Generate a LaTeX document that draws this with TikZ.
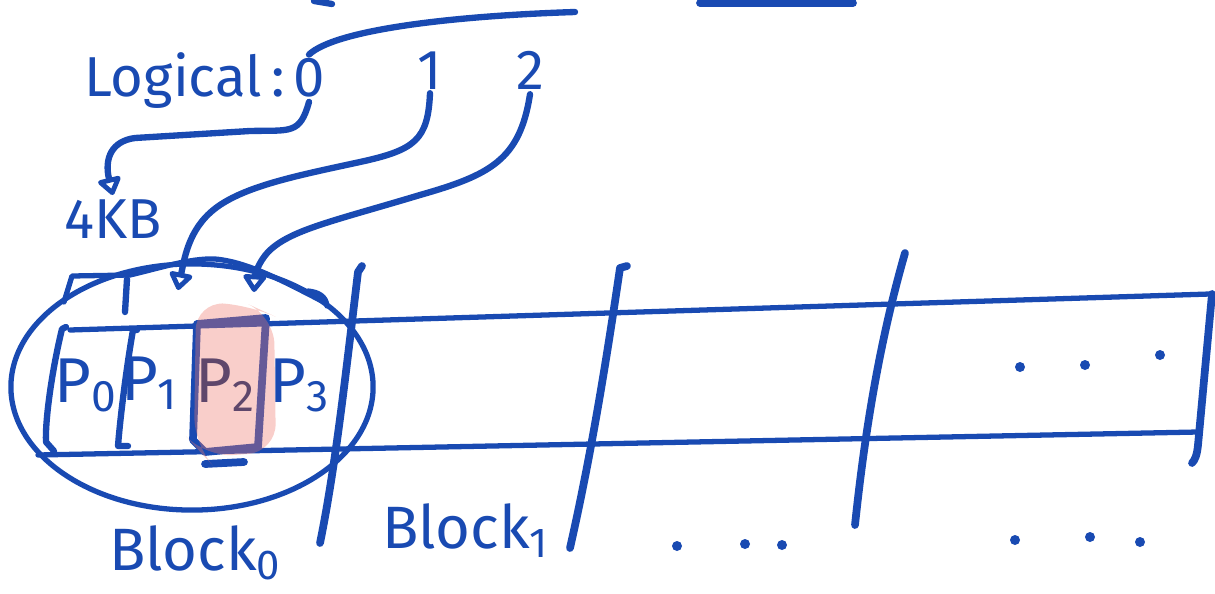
\documentclass[tikz,border=0pt]{standalone}
\usepackage{fontspec}
\setmainfont{Fira Sans}
\usepackage{tikz}
\usetikzlibrary{arrows.meta}
\definecolor{figink}{RGB}{25,74,178}
\definecolor{figpink}{RGB}{238,120,108}
\tikzset{
  ink/.style  ={draw=figink, line width=1.8pt, line cap=round, line join=round},
  inkt/.style ={draw=figink, line width=1.5pt, line cap=round, line join=round},
  inkb/.style ={draw=figink, line width=2.2pt, line cap=round, line join=round},
  ptr/.style  ={ink, -{Triangle[open,round,length=5.5pt,width=7.5pt]}},
  lab/.style  ={text=figink, font=\fontsize{16}{19}\selectfont, inner sep=1pt},
  labp/.style ={text=figink, font=\fontsize{18}{21}\selectfont, inner sep=1pt},
  labb/.style ={text=figink, font=\fontsize{17}{20}\selectfont, inner sep=1pt},
  blob/.style ={fill=figink},
}

\begin{document}
\begin{tikzpicture}[x=0.01cm,y=-0.01cm]
  \useasboundingbox (0,0) rectangle (1215,594);
  \node[lab,anchor=base west] (logic) at (80,97) {Logical\,:};
  \node[lab,anchor=base] (l0) at (309,97) {0};
  \node[lab,anchor=base] (l1) at (430,89) {1};
  \node[lab,anchor=base] (l2) at (530,90) {2};
  \node[lab,anchor=base west] (kb) at (60,238) {4KB};
  \coordinate (topend) at (575,12);
  \coordinate (t1) at (178,290);
  \coordinate (t2) at (254,292);
  \draw[ink] (314,1) -- (332,4);
  \draw[inkb] (700,3) -- (853,3);
  \draw[ink] (l0.north) .. controls (335,30) and (450,16) .. (topend);
  \draw[ptr] (l0.south) .. controls (300,135) and (290,130) .. (250,131) -- (135,138) .. controls (112,141) and (104,158) .. (kb.north);
  \draw[ptr] (l1.south) .. controls (428,140) and (415,150) .. (360,162) .. controls (300,175) and (250,185) .. (220,205) .. controls (190,225) and (185,255) .. (t1);
  \draw[ptr] (l2.south) .. controls (520,160) and (490,175) .. (420,195) .. controls (330,222) and (290,230) .. (268,252) .. controls (258,263) and (255,275) .. (t2);
  \draw[inkt] (192,387) ellipse [x radius=1.81cm, y radius=1.23cm];
  \draw[inkt] (64,302) -- (72,276) -- (130,275) .. controls (160,268) and (190,258) .. (215,259) .. controls (250,262) and (290,285) .. (324,302);
  \draw[inkt] (308,291) .. controls (318,292) and (326,296) .. (327,306);
  \draw[ink] (127,279) -- (125,312);
  \draw[inkt] (70,330) -- (1210,294);
  \draw[inkt] (38,455) -- (1198,432);
  \draw[ink] (66,327) -- (62,329) .. controls (52,370) and (45,420) .. (46,442) -- (54,451);
  \draw[ink] (137,330) -- (133,330) .. controls (126,370) and (120,420) .. (118,446) -- (128,446);
  \draw[inkb] (197,324) -- (266,318) -- (258,447) -- (205,452) -- (193,440) -- cycle;
  \draw[inkb] (205,464) -- (244,462);
  \draw[inkb] (362,266) -- (358,272) .. controls (345,380) and (335,470) .. (320,543);
  \draw[inkb] (627,266) -- (620,268) .. controls (605,370) and (590,460) .. (570,548);
  \draw[inkb] (905,253) .. controls (880,340) and (865,430) .. (855,525);
  \draw[inkb] (1212,294) -- (1198,445) .. controls (1197,455) and (1195,460) .. (1192,463);
  \node[labp,anchor=base] (p0) at (86,402) {P\textsubscript{0}};
  \node[labp,anchor=base] (p1) at (150,400) {P\textsubscript{1}};
  \node[labp,anchor=base,text=figink!60!black] (p2) at (226,402) {P\textsubscript{2}};
  \node[labp,anchor=base] (p3) at (300,402) {P\textsubscript{3}};
  \fill[figpink,opacity=0.36,rounded corners=8pt] (196,302) -- (250,305) -- (274,316) -- (276,452) -- (205,457) -- (194,445) -- cycle;
  \node[labb,anchor=base west] (blk0) at (105,570) {Block\textsubscript{0}};
  \node[labb,anchor=base west] (blk1) at (378,548) {Block\textsubscript{1}};
  \foreach \px/\py in {1020/367,1085/365,1160/355,677/546,745/544,782/545,1015/540,1090/537,1140/542}
    \fill[blob] (\px,\py) circle [radius=0.05cm];
\end{tikzpicture}
\end{document}
